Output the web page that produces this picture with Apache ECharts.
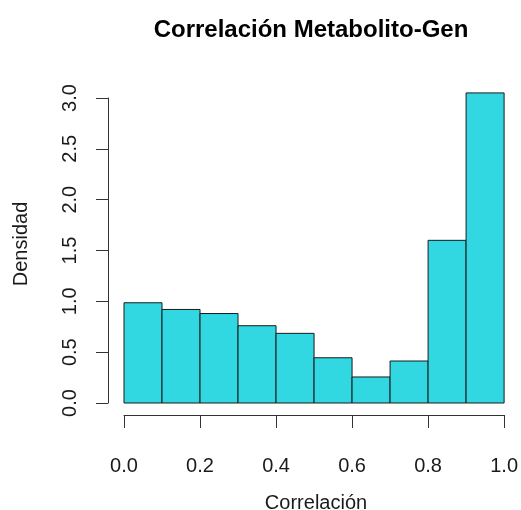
<!DOCTYPE html>
<html>
<head>
<meta charset="utf-8">
<script src="https://cdn.jsdelivr.net/npm/echarts@6/dist/echarts.min.js"></script>
<style>
  html, body { margin: 0; padding: 0; background: #fff; }
  #chart { width: 521px; height: 510px; }
</style>
</head>
<body>
<div id="chart"></div>
<script>
// Histogram bins (left edge, right edge) and density per bin
const binStarts = [0.0, 0.1, 0.2, 0.3, 0.4, 0.5, 0.6, 0.7, 0.8, 0.9];
const binEnds   = [0.1, 0.2, 0.3, 0.4, 0.5, 0.6, 0.7, 0.8, 0.9, 1.0];
const densities = [0.986, 0.92, 0.88, 0.76, 0.685, 0.445, 0.256, 0.413, 1.60, 3.05];
const xTicks = ['0.0', '0.2', '0.4', '0.6', '0.8', '1.0'];
const yTicks = ['0.0', '0.5', '1.0', '1.5', '2.0', '2.5', '3.0'];

const FONT = 'Liberation Sans, Arial, Helvetica, sans-serif';
const data = binStarts.map((s, i) => [s, binEnds[i], densities[i]]);

const chart = echarts.init(document.getElementById('chart'), null, { renderer: 'canvas' });
chart.setOption({
  animation: false,
  backgroundColor: '#ffffff',
  grid: { left: 124, right: 14, top: 98, bottom: 107, containLabel: false },
  xAxis: {
    type: 'value', min: 0, max: 1, interval: 0.2,
    offset: 12,
    axisLine: { show: true, onZero: false, lineStyle: { color: '#333', width: 1 } },
    axisTick: { show: true, length: 13, lineStyle: { color: '#333', width: 1 } },
    axisLabel: {
      margin: 41, color: '#1a1a1a', fontSize: 20, fontFamily: FONT,
      formatter: (v) => xTicks[Math.round(v / 0.2)]
    },
    splitLine: { show: false }
  },
  yAxis: {
    type: 'value', min: 0, max: 3, interval: 0.5,
    offset: 16,
    axisLine: { show: true, onZero: false, lineStyle: { color: '#333', width: 1 } },
    axisTick: { show: true, length: 12, lineStyle: { color: '#333', width: 1 } },
    axisLabel: {
      rotate: 90, margin: 28, color: '#1a1a1a', fontSize: 20, fontFamily: FONT,
      formatter: (v) => yTicks[Math.round(v / 0.5)]
    },
    splitLine: { show: false }
  },
  series: [{
    type: 'custom',
    clip: false,
    data: data,
    renderItem: function (params, api) {
      const p0 = api.coord([api.value(0), 0]);
      const p1 = api.coord([api.value(1), api.value(2)]);
      return {
        type: 'rect',
        shape: { x: p0[0], y: p1[1], width: p1[0] - p0[0], height: p0[1] - p1[1] },
        style: { fill: '#31d8e2', stroke: '#1a1a1a', lineWidth: 1 }
      };
    }
  }],
  graphic: [
    {
      type: 'text', x: 311, y: 30,
      style: {
        text: 'Correlación Metabolito-Gen', fill: '#000',
        font: 'bold 24px ' + FONT, textAlign: 'center', textVerticalAlign: 'middle'
      }
    },
    {
      type: 'text', x: 316, y: 503,
      style: {
        text: 'Correlación', fill: '#1a1a1a',
        font: '20px ' + FONT, textAlign: 'center', textVerticalAlign: 'middle'
      }
    },
    {
      type: 'text', x: 21, y: 244, rotation: Math.PI / 2,
      style: {
        text: 'Densidad', fill: '#1a1a1a',
        font: '20px ' + FONT, textAlign: 'center', textVerticalAlign: 'middle'
      }
    }
  ]
});
</script>
</body>
</html>
